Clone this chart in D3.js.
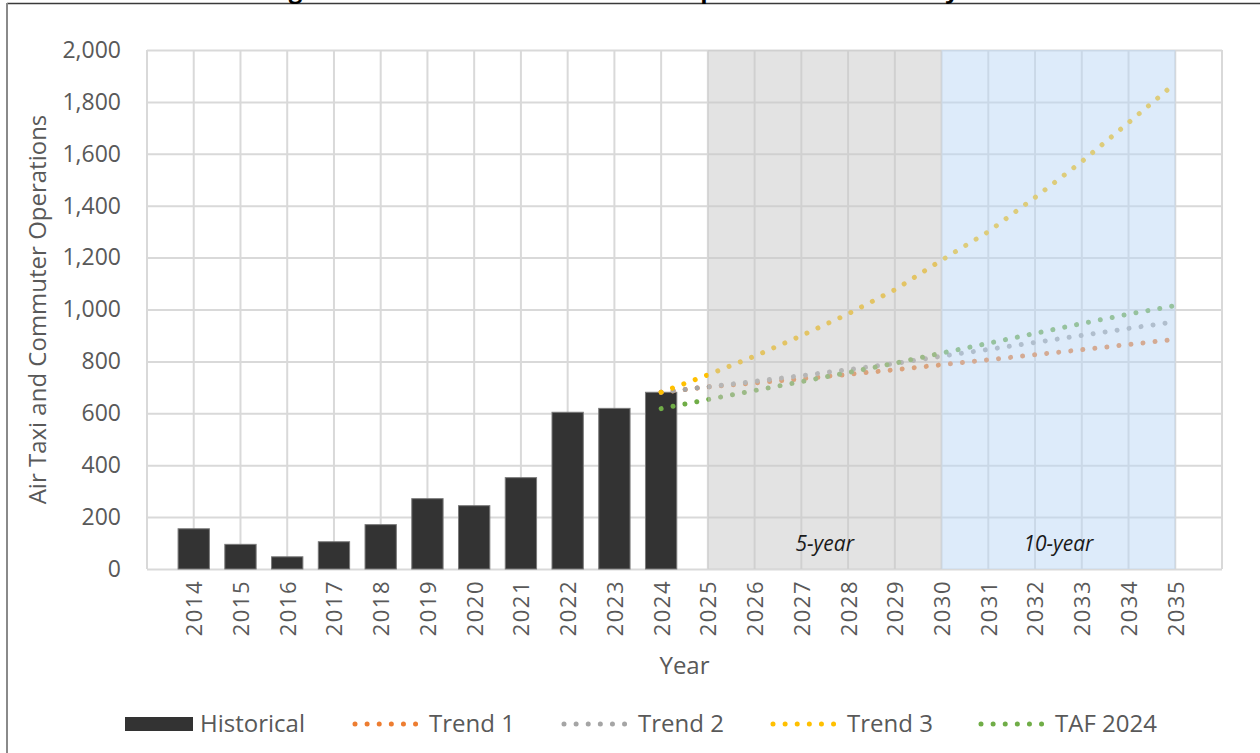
<!DOCTYPE html>
<html>
<head>
<meta charset="utf-8">
<script src="https://cdn.jsdelivr.net/npm/d3@7"></script>
<style>
  html, body { margin: 0; padding: 0; background: #ffffff; }
  svg { display: block; font-family: "Open Sans", "Noto Sans", sans-serif; }
</style>
</head>
<body>
<svg id="chart" width="1260" height="753"></svg>
<script>
// Categories (years) on the x axis
const years = ["2014","2015","2016","2017","2018","2019","2020","2021","2022","2023","2024",
               "2025","2026","2027","2028","2029","2030","2031","2032","2033","2034","2035"];

// Historical air taxi and commuter operations
const histYears  = ["2014","2015","2016","2017","2018","2019","2020","2021","2022","2023","2024"];
const historical = [155, 95, 47, 105, 171, 271, 244, 352, 604, 619, 681];

// Forecast series, 2024 to 2035
const forecastYears = ["2024","2025","2026","2027","2028","2029","2030","2031","2032","2033","2034","2035"];
const trend1  = [681, 702, 717, 733, 750, 768, 787, 806, 826, 845, 865, 885];
const trend2  = [681, 702, 723, 745, 768, 792, 820, 846, 873, 900, 927, 953];
const trend3  = [681, 748, 820, 899, 983, 1076, 1190, 1300, 1432, 1570, 1720, 1872];
const taf2024 = [618, 653, 688, 722, 757, 793, 832, 870, 908, 946, 982, 1015];

// Y axis ticks
const yTicks = [0, 200, 400, 600, 800, 1000, 1200, 1400, 1600, 1800, 2000];

// Planning horizons shaded on the chart
const periodNames  = ["5-year", "10-year"];
const periodStarts = ["2025", "2030"];
const periodEnds   = ["2030", "2035"];

const svg = d3.select("#chart");

const plot = { left: 147, right: 1222, top: 50, bottom: 569 };

const x = d3.scalePoint().domain(years).range([plot.left, plot.right]).padding(1);
const y = d3.scaleLinear().domain([0, 2000]).range([plot.bottom, plot.top]);

const gridColor = "#d9d9d9";
const textColor = "#595959";

// Outer frame
svg.append("line").attr("x1", 7).attr("x2", 1260).attr("y1", 3.5).attr("y2", 3.5)
  .attr("stroke", "#3a3a3a").attr("stroke-width", 1.3);
svg.append("line").attr("x1", 7).attr("x2", 7).attr("y1", 3).attr("y2", 753)
  .attr("stroke", "#8a8a8a").attr("stroke-width", 2);

// Title (sits above the frame line)
svg.append("text")
  .attr("x", 644).attr("y", -2.5)
  .attr("text-anchor", "middle")
  .attr("font-size", 24).attr("font-weight", "bold").attr("fill", "#000")
  .text("Figure 4-5: Air Taxi and Commuter Operations Forecast by Year");

// Horizontal gridlines
svg.append("g")
  .attr("transform", `translate(${plot.left},0)`)
  .call(d3.axisLeft(y).tickValues(yTicks).tickSize(-(plot.right - plot.left)).tickFormat(""))
  .call(g => g.select(".domain").remove())
  .call(g => g.selectAll("line").attr("stroke", gridColor).attr("stroke-width", 2));

// Vertical gridlines at each category plus the plot edges
const vLines = [plot.left].concat(years.map(d => x(d)), [plot.right]);
svg.append("g").selectAll("line").data(vLines).join("line")
  .attr("x1", d => d).attr("x2", d => d)
  .attr("y1", plot.top).attr("y2", plot.bottom)
  .attr("stroke", gridColor).attr("stroke-width", 2);

// Y tick labels
svg.append("g")
  .attr("transform", `translate(${plot.left},0)`)
  .call(d3.axisLeft(y).tickValues(yTicks).tickSize(0).tickPadding(26).tickFormat(d3.format(",")))
  .call(g => g.select(".domain").remove())
  .call(g => g.selectAll("text").attr("fill", textColor).attr("font-size", 23)
    .attr("font-family", "'Open Sans', sans-serif"));

// X tick labels, rotated
svg.append("g")
  .attr("transform", `translate(0,${plot.bottom})`)
  .call(d3.axisBottom(x).tickSize(0).tickPadding(0))
  .call(g => g.select(".domain").remove())
  .call(g => g.selectAll("text")
    .attr("fill", textColor).attr("font-size", 22)
    .attr("letter-spacing", 1.5)
    .attr("font-family", "'Open Sans', sans-serif")
    .attr("text-anchor", "end")
    .attr("transform", "translate(0,11) rotate(-90)")
    .attr("x", 0).attr("y", 0).attr("dy", "0.36em"));

// Historical bars
const barW = x.step() * 0.67;
svg.append("g").selectAll("rect").data(histYears).join("rect")
  .attr("x", (d) => x(d) - barW / 2)
  .attr("y", (d, i) => y(historical[i]))
  .attr("width", barW)
  .attr("height", (d, i) => y(0) - y(historical[i]))
  .attr("fill", "#333333")
  .attr("stroke", "#7a7a7a").attr("stroke-width", 1);

// Dotted forecast lines
const series = [
  { name: "Trend 1", values: trend1, color: "#ED7D31" },
  { name: "Trend 2", values: trend2, color: "#A5A5A5" },
  { name: "Trend 3", values: trend3, color: "#FFC000" },
  { name: "TAF 2024", values: taf2024, color: "#70AD47" }
];
const dotDash = "0.01 12.1";
const line = d3.line().x((d) => x(d[0])).y((d) => y(d[1]));
series.forEach(s => {
  svg.append("path")
    .datum(forecastYears.map((yr, i) => [yr, s.values[i]]))
    .attr("d", line)
    .attr("fill", "none")
    .attr("stroke", s.color)
    .attr("stroke-width", 5)
    .attr("stroke-linecap", "round")
    .attr("stroke-dasharray", dotDash);
});

// Translucent planning-horizon bands drawn over the lines
const bandFills = ["rgba(199,199,199,0.5)", "rgba(187,215,246,0.5)"];
periodNames.forEach((name, i) => {
  const x0 = x(periodStarts[i]), x1 = x(periodEnds[i]);
  svg.append("rect")
    .attr("x", x0).attr("y", plot.top)
    .attr("width", x1 - x0).attr("height", plot.bottom - plot.top)
    .attr("fill", bandFills[i]);
  svg.append("text")
    .attr("x", (x0 + x1) / 2).attr("y", 551)
    .attr("text-anchor", "middle")
    .attr("font-size", 21).attr("font-style", "italic").attr("fill", "#1a1a1a")
    .text(name);
});

// Axis titles
svg.append("text")
  .attr("x", (plot.left + plot.right) / 2).attr("y", 674)
  .attr("text-anchor", "middle")
  .attr("font-size", 24).attr("fill", textColor)
  .text("Year");
svg.append("text")
  .attr("transform", `translate(46,${(plot.top + plot.bottom) / 2}) rotate(-90)`)
  .attr("text-anchor", "middle")
  .attr("font-size", 24).attr("fill", textColor)
  .text("Air Taxi and Commuter Operations");

// Legend
const legendY = 724;
const legend = svg.append("g");
legend.append("rect").attr("x", 125).attr("y", legendY - 7).attr("width", 68).attr("height", 14)
  .attr("fill", "#333333");
legend.append("text").attr("x", 200).attr("y", legendY).attr("dy", "0.35em")
  .attr("font-size", 24).attr("fill", textColor).text("Historical");
const legendX = [355, 564, 773, 981];
series.forEach((s, i) => {
  legend.append("line")
    .attr("x1", legendX[i]).attr("x2", legendX[i] + 66)
    .attr("y1", legendY).attr("y2", legendY)
    .attr("stroke", s.color).attr("stroke-width", 5)
    .attr("stroke-linecap", "round").attr("stroke-dasharray", dotDash);
  legend.append("text").attr("x", legendX[i] + 74).attr("y", legendY).attr("dy", "0.35em")
    .attr("font-size", 24).attr("fill", textColor).text(s.name);
});
</script>
</body>
</html>
